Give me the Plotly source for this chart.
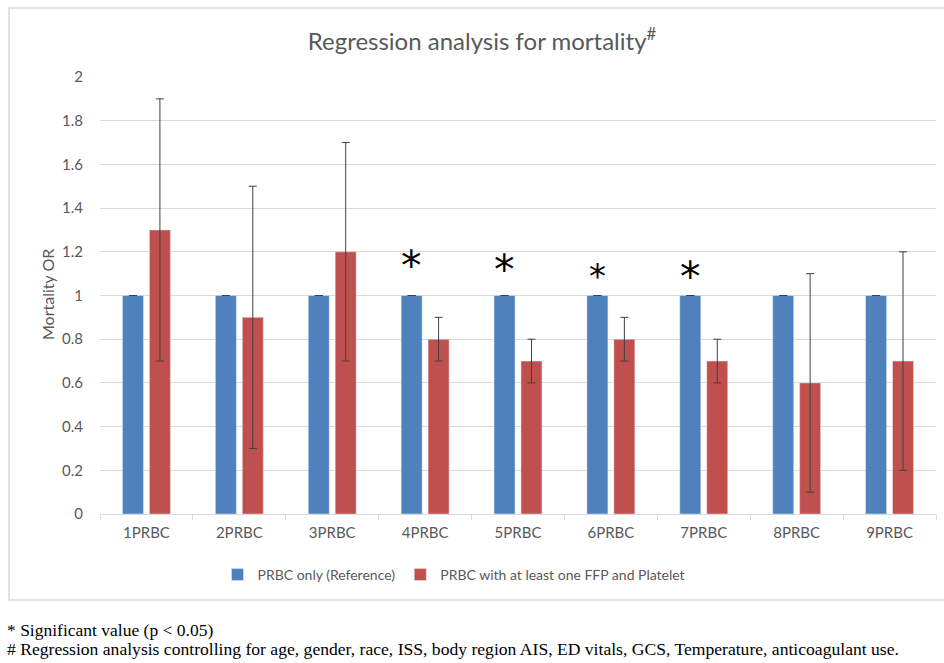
import plotly.graph_objects as go

categories = ["1PRBC", "2PRBC", "3PRBC", "4PRBC", "5PRBC", "6PRBC", "7PRBC", "8PRBC", "9PRBC"]
ref_values = [1, 1, 1, 1, 1, 1, 1, 1, 1]
combo_values = [1.3, 0.9, 1.2, 0.8, 0.7, 0.8, 0.7, 0.6, 0.7]
combo_upper = [1.9, 1.5, 1.7, 0.9, 0.8, 0.9, 0.8, 1.1, 1.2]
combo_lower = [0.7, 0.3, 0.7, 0.7, 0.6, 0.7, 0.6, 0.1, 0.2]
sig_categories = ["4PRBC", "5PRBC", "6PRBC", "7PRBC"]
sig_heights = [1.16, 1.14, 1.11, 1.11]
sig_sizes = [41, 41, 34, 41]
y_ticks = [0, 0.2, 0.4, 0.6, 0.8, 1, 1.2, 1.4, 1.6, 1.8, 2]

err_plus = [u - v for u, v in zip(combo_upper, combo_values)]
err_minus = [v - l for v, l in zip(combo_values, combo_lower)]

gray = "#595959"
font_family = "Lato, 'Open Sans', sans-serif"

fig = go.Figure()
fig.add_trace(go.Bar(
    x=categories, y=ref_values, name="PRBC only (Reference)",
    marker=dict(color="#4f81bd"),
    error_y=dict(type="data", array=[0] * len(ref_values), color="#404040", thickness=1, width=4),
))
fig.add_trace(go.Bar(
    x=categories, y=combo_values, name="PRBC with at least one FFP and Platelet",
    marker=dict(color="#c0504d"),
    error_y=dict(type="data", symmetric=False, array=err_plus, arrayminus=err_minus,
                 color="#404040", thickness=1, width=4),
))

W, H = 944, 663
L, R, T, B = 100, 936, 77, 514
pw, ph = R - L, B - T

def px(x):
    return (x - L) / pw

def py(y):
    return (B - y) / ph

annotations = []
for c, h, s in zip(sig_categories, sig_heights, sig_sizes):
    annotations.append(dict(x=c, y=h, xref="x", yref="y", text="*", showarrow=False,
                            xshift=-13.5, yshift=-0.087 * s - 2, yanchor="middle", xanchor="center",
                            font=dict(size=s, color="black", family="DejaVu Sans")))
annotations.append(dict(x=px(47), y=py(295), xref="paper", yref="paper", text="Mortality OR",
                        textangle=-90, showarrow=False, xanchor="center", yanchor="middle",
                        font=dict(size=16, color=gray, family=font_family)))
annotations.append(dict(x=px(5), y=py(630), xref="paper", yref="paper", xanchor="left", yanchor="middle",
                        text="* Significant value (p < 0.05)", showarrow=False,
                        font=dict(size=17.5, color="black", family="Liberation Serif")))
annotations.append(dict(x=px(5), y=py(649), xref="paper", yref="paper", xanchor="left", yanchor="middle",
                        text="# Regression analysis controlling for age, gender, race, ISS, body region AIS, ED vitals, GCS, Temperature, anticoagulant use.",
                        showarrow=False, font=dict(size=17.6, color="black", family="Liberation Serif")))

fig.update_layout(
    width=W, height=H,
    margin=dict(l=L, r=W - R, t=T, b=H - B),
    paper_bgcolor="white", plot_bgcolor="white",
    barmode="group", bargap=0.42, bargroupgap=0.22,
    title=dict(text="Regression analysis for mortality<sup>#</sup>", x=px(482), xref="paper",
               xanchor="center", y=1 - 42 / H, yanchor="middle",
               font=dict(size=24, color=gray, family=font_family)),
    showlegend=True,
    legend=dict(orientation="h", x=px(454), xanchor="center", y=py(575), yanchor="middle",
                font=dict(size=14, color=gray, family=font_family), bgcolor="rgba(0,0,0,0)"),
    yaxis=dict(range=[0, 2], tickvals=y_ticks, ticktext=[str(t) if t not in (0, 1, 2) else str(int(t)) for t in y_ticks],
               showgrid=True, gridcolor="#d9d9d9", gridwidth=1, zeroline=False, showline=False,
               ticks="", ticklabelstandoff=16,
               tickfont=dict(size=15, color=gray, family=font_family)),
    xaxis=dict(showline=True, linecolor="#d9d9d9", linewidth=1, ticks="outside", tickson="boundaries",
               ticklen=5, tickcolor="#d9d9d9", showgrid=False, ticklabelstandoff=5,
               tickfont=dict(size=15, color=gray, family=font_family)),
    annotations=annotations,
    shapes=[dict(type="rect", xref="paper", yref="paper", x0=px(9), x1=px(946), y0=py(600), y1=py(8),
                 line=dict(color="#d9d9d9", width=1.5), layer="below")],
)

fig.write_html("out.html", config={"displayModeBar": False},
               post_script="document.body.style.margin='0';document.body.style.overflow='hidden';")
